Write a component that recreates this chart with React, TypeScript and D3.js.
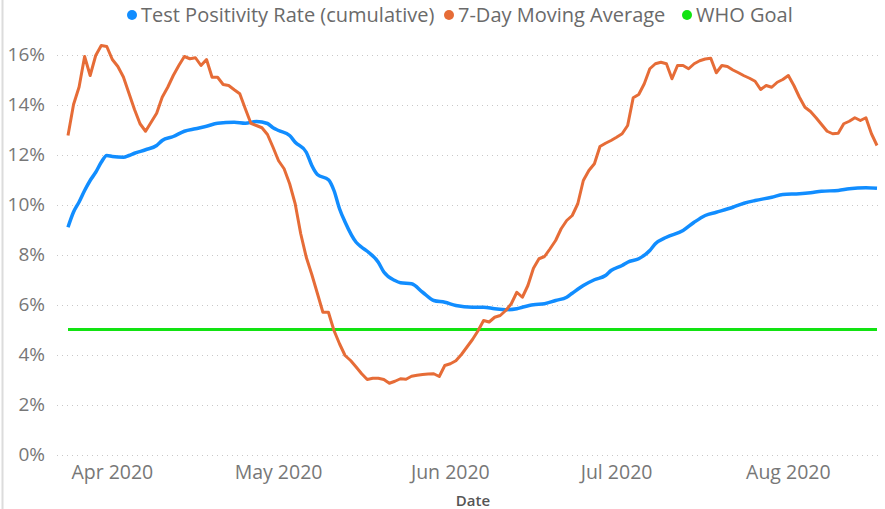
import React, { useEffect, useRef } from "react";
import * as d3 from "d3";

// 7-day moving average, one value per day starting 2020-03-24
const avgStart = "2020-03-24";
const avgValues = [
  12.76, 14.0, 14.7, 15.92, 15.16, 15.96, 16.36, 16.32,
  15.8, 15.52, 15.1, 14.45, 13.8, 13.23, 12.93, 13.29, 13.65, 14.29,
  14.69, 15.16, 15.56, 15.92, 15.83, 15.87, 15.56, 15.8, 15.09, 15.09,
  14.8, 14.76, 14.59, 14.43, 13.83, 13.25, 13.16, 13.07, 12.8, 12.29,
  11.75, 11.43, 10.83, 10.03, 8.83, 7.89, 7.2, 6.45, 5.69, 5.69,
  4.96, 4.43, 3.96, 3.76, 3.5, 3.23, 3.0, 3.05, 3.05, 3.0,
  2.85, 2.93, 3.03, 3.01, 3.13, 3.17, 3.2, 3.22, 3.23, 3.12,
  3.56, 3.63, 3.75, 4.0, 4.3, 4.6, 4.95, 5.36, 5.3, 5.49,
  5.56, 5.76, 6.03, 6.49, 6.29, 6.76, 7.45, 7.83, 7.92, 8.23,
  8.56, 9.03, 9.36, 9.56, 10.03, 10.96, 11.36, 11.63, 12.32, 12.45,
  12.56, 12.69, 12.83, 13.16, 14.27, 14.4, 14.83, 15.43, 15.63, 15.69,
  15.63, 15.03, 15.56, 15.56, 15.43, 15.63, 15.75, 15.82, 15.85, 15.27,
  15.56, 15.52, 15.38, 15.27, 15.15, 15.05, 14.93, 14.6, 14.76, 14.69,
  14.89, 15.0, 15.16, 14.76, 14.29, 13.89, 13.72, 13.47, 13.2, 12.93,
  12.83, 12.85, 13.23, 13.33, 13.47, 13.36, 13.47, 12.83, 12.36,
];

// cumulative test positivity rate
const rateDates = [
  "2020-03-24", "2020-03-25", "2020-03-26", "2020-03-27", "2020-03-28",
  "2020-03-29", "2020-03-30", "2020-03-31", "2020-04-01", "2020-04-03",
  "2020-04-04", "2020-04-05", "2020-04-07", "2020-04-09", "2020-04-10",
  "2020-04-12", "2020-04-14", "2020-04-16", "2020-04-18", "2020-04-20",
  "2020-04-23", "2020-04-25", "2020-04-27", "2020-04-29", "2020-04-30",
  "2020-05-01", "2020-05-03", "2020-05-04", "2020-05-06", "2020-05-07",
  "2020-05-08", "2020-05-10", "2020-05-11", "2020-05-12", "2020-05-13",
  "2020-05-15", "2020-05-16", "2020-05-17", "2020-05-19", "2020-05-20",
  "2020-05-22", "2020-05-23", "2020-05-25", "2020-05-27", "2020-05-29",
  "2020-05-31", "2020-06-02", "2020-06-05", "2020-06-07", "2020-06-09",
  "2020-06-11", "2020-06-13", "2020-06-14", "2020-06-16", "2020-06-18",
  "2020-06-20", "2020-06-22", "2020-06-23", "2020-06-25", "2020-06-27",
  "2020-06-29", "2020-06-30", "2020-07-02", "2020-07-03", "2020-07-05",
  "2020-07-07", "2020-07-08", "2020-07-10", "2020-07-13", "2020-07-15",
  "2020-07-17", "2020-07-19", "2020-07-22", "2020-07-24", "2020-07-26",
  "2020-07-29", "2020-07-31", "2020-08-03", "2020-08-05", "2020-08-07",
  "2020-08-10", "2020-08-12", "2020-08-15", "2020-08-17",
];
const rateValues = [
  9.09, 9.7, 10.1, 10.56, 10.96,
  11.29, 11.69, 11.96, 11.92, 11.89,
  11.96, 12.05, 12.19, 12.36, 12.56,
  12.72, 12.93, 13.03, 13.13, 13.25,
  13.29, 13.25, 13.32, 13.24, 13.07,
  12.96, 12.76, 12.49, 12.09, 11.56,
  11.2, 10.99, 10.56, 9.83, 9.3,
  8.49, 8.29, 8.13, 7.69, 7.3,
  6.96, 6.87, 6.83, 6.49, 6.16,
  6.09, 5.96, 5.89, 5.89, 5.83,
  5.79, 5.83, 5.89, 5.99, 6.03,
  6.16, 6.29, 6.45, 6.76, 6.99,
  7.16, 7.36, 7.56, 7.69, 7.83,
  8.16, 8.43, 8.69, 8.96, 9.29,
  9.56, 9.69, 9.89, 10.05, 10.16,
  10.29, 10.4, 10.43, 10.47, 10.53,
  10.56, 10.63, 10.67, 10.65,
];

const whoGoal = 5;
const yTicks = [0, 2, 4, 6, 8, 10, 12, 14, 16];
const monthTicks = ["2020-04-01", "2020-05-01", "2020-06-01", "2020-07-01", "2020-08-01"];

const legendItems = [
  { label: "Test Positivity Rate (cumulative)", color: "#118DFF", x: 132 },
  { label: "7-Day Moving Average", color: "#E66C37", x: 449 },
  { label: "WHO Goal", color: "#12E312", x: 687 },
];

const W = 885;
const H = 509;
const FONT = "'Open Sans', 'Noto Sans', sans-serif";

export default function App() {
  const ref = useRef<SVGSVGElement>(null);

  useEffect(() => {
    const parse = d3.timeParse("%Y-%m-%d");
    const start = parse(avgStart) as Date;
    const avg = avgValues.map((v, i) => ({ date: d3.timeDay.offset(start, i), value: v }));
    const rate = rateDates.map((d, i) => ({ date: parse(d) as Date, value: rateValues[i] }));

    const svg = d3.select(ref.current);
    svg.selectAll("*").remove();

    const xScale = d3
      .scaleTime()
      .domain(d3.extent(avg, (d) => d.date) as [Date, Date])
      .range([68, 877]);

    const yScale = d3.scaleLinear().domain([0, 16]).range([454.5, 54.5]);

    // left border of the visual
    svg
      .append("line")
      .attr("x1", 2.5)
      .attr("x2", 2.5)
      .attr("y1", 0)
      .attr("y2", H)
      .attr("stroke", "#dcdcdc")
      .attr("stroke-width", 2);

    // dotted gridlines
    svg
      .append("g")
      .selectAll("line")
      .data(yTicks)
      .join("line")
      .attr("x1", 57)
      .attr("x2", 882)
      .attr("y1", (d) => Math.round(yScale(d)) + 0.5)
      .attr("y2", (d) => Math.round(yScale(d)) + 0.5)
      .attr("stroke", "#c8c8c8")
      .attr("stroke-width", 1)
      .attr("stroke-dasharray", "1,4");

    // y-axis labels
    svg
      .append("g")
      .selectAll("text")
      .data(yTicks)
      .join("text")
      .attr("x", 45)
      .attr("y", (d) => yScale(d))
      .attr("dy", "0.35em")
      .attr("text-anchor", "end")
      .attr("fill", "#777")
      .style("font-family", FONT)
      .style("font-size", "19px")
      .text((d) => `${d}%`);

    // x-axis labels
    const fmt = d3.timeFormat("%b %Y");
    svg
      .append("g")
      .selectAll("text")
      .data(monthTicks.map((d) => parse(d) as Date))
      .join("text")
      .attr("x", (d) => xScale(d))
      .attr("y", 479)
      .attr("text-anchor", "middle")
      .attr("fill", "#777")
      .style("font-family", FONT)
      .style("font-size", "19.5px")
      .text((d) => fmt(d));

    // x-axis title
    svg
      .append("text")
      .attr("x", 473)
      .attr("y", 506)
      .attr("text-anchor", "middle")
      .attr("fill", "#555")
      .style("font-family", FONT)
      .style("font-size", "15px")
      .style("font-weight", 600)
      .text("Date");

    // WHO goal line
    svg
      .append("line")
      .attr("x1", xScale.range()[0])
      .attr("x2", xScale.range()[1])
      .attr("y1", yScale(whoGoal))
      .attr("y2", yScale(whoGoal))
      .attr("stroke", legendItems[2].color)
      .attr("stroke-width", 3);

    const line = d3
      .line<{ date: Date; value: number }>()
      .x((d) => xScale(d.date))
      .y((d) => yScale(d.value));

    svg
      .append("path")
      .datum(rate)
      .attr("fill", "none")
      .attr("stroke", legendItems[0].color)
      .attr("stroke-width", 3.5)
      .attr("stroke-linejoin", "round")
      .attr("d", line.curve(d3.curveMonotoneX));

    svg
      .append("path")
      .datum(avg)
      .attr("fill", "none")
      .attr("stroke", legendItems[1].color)
      .attr("stroke-width", 3)
      .attr("stroke-linejoin", "round")
      .attr("d", line.curve(d3.curveLinear));

    // legend
    const legend = svg
      .append("g")
      .selectAll("g")
      .data(legendItems)
      .join("g")
      .attr("transform", (d) => `translate(${d.x}, 15)`);

    legend
      .append("circle")
      .attr("r", 5)
      .attr("fill", (d) => d.color);

    legend
      .append("text")
      .attr("x", 9)
      .attr("y", 7)
      .attr("fill", "#6a6a6a")
      .style("font-family", FONT)
      .style("font-size", "20px")
      .text((d) => d.label);
  }, []);

  return (
    <svg
      ref={ref}
      width={W}
      height={H}
      style={{ position: "absolute", left: 0, top: 0, background: "#fff" }}
    />
  );
}
